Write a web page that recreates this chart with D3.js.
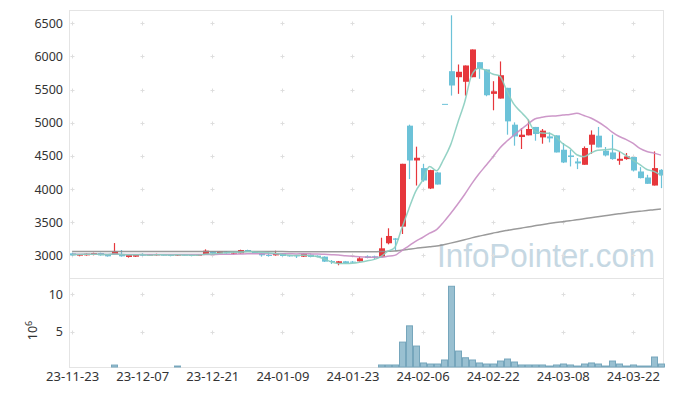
<!DOCTYPE html>
<html>
<head>
<meta charset="utf-8">
<script src="https://cdn.jsdelivr.net/npm/d3@7"></script>
<style>
  body { margin: 0; background: #fff; }
  text { font-family: "Noto Sans", "DejaVu Sans", sans-serif; }
</style>
</head>
<body>
<div id="chart"></div>
<script>
// trading days
var dates = ["23-11-23","23-11-24","23-11-27","23-11-28","23-11-29","23-11-30","23-12-01","23-12-04","23-12-05","23-12-06",
  "23-12-07","23-12-08","23-12-11","23-12-12","23-12-13","23-12-14","23-12-15","23-12-18","23-12-19","23-12-20",
  "23-12-21","23-12-22","23-12-26","23-12-27","23-12-28","24-01-02","24-01-03","24-01-04","24-01-05","24-01-08",
  "24-01-09","24-01-10","24-01-11","24-01-12","24-01-15","24-01-16","24-01-17","24-01-18","24-01-19","24-01-22",
  "24-01-23","24-01-24","24-01-25","24-01-26","24-01-29","24-01-30","24-01-31","24-02-01","24-02-02","24-02-05",
  "24-02-06","24-02-07","24-02-08","24-02-13","24-02-14","24-02-15","24-02-16","24-02-19","24-02-20","24-02-21",
  "24-02-22","24-02-23","24-02-26","24-02-27","24-02-28","24-02-29","24-03-04","24-03-05","24-03-06","24-03-07",
  "24-03-08","24-03-11","24-03-12","24-03-13","24-03-14","24-03-15","24-03-18","24-03-19","24-03-20","24-03-21",
  "24-03-22","24-03-25","24-03-26","24-03-27","24-03-28"];

var open = [3030,2995,3000,3005,3035,3015,3010,3010,2975,2980,
  3010,2995,3005,3010,3005,2995,3010,3005,2995,3015,
  3060,3030,3060,3025,3030,3080,3050,3030,3005,3000,
  3030,3000,3000,2980,3010,2995,2980,2915,2880,2910,
  2905,2910,2985,2985,2979,3182,3255,3433,4956,4431,
  4316,4008,4250,5285,5778,5687,5618,5687,5914,5804,
  5436,5365,5527,4971,4785,4810,4937,4779,4794,4810,
  4593,4507,4416,4366,4669,4805,4578,4552,4427,4452,
  4483,4265,4174,4053,4290];
var high = [3040,3015,3030,3040,3040,3020,3185,3080,3010,3010,
  3030,3020,3025,3015,3015,3020,3015,3010,3015,3090,
  3065,3065,3065,3055,3085,3085,3060,3035,3040,3070,
  3035,3005,3005,3030,3015,3000,2985,2930,2915,2915,
  2915,2975,3000,2995,3266,3408,3260,4381,4971,4639,
  4381,4290,4260,5285,6621,5879,5864,6106,5914,5804,
  5627,5925,5527,5006,4921,5047,4937,4906,4855,4810,
  4695,4593,4467,4643,4885,4937,4634,4820,4568,4543,
  4483,4331,4215,4568,4300];
var low = [2995,2985,2995,3000,2995,2980,3005,2980,2965,2975,
  2990,2990,2995,2995,2985,2990,2995,2985,2990,3010,
  3025,3025,3025,3015,3025,3060,3035,2980,2980,2995,
  2985,2980,2960,2975,2970,2970,2900,2870,2850,2875,
  2885,2905,2955,2945,2975,3166,3070,3322,4150,4053,
  4110,4000,4068,5285,5410,5436,5410,5687,5663,5400,
  5188,5365,4820,4654,4604,4810,4729,4684,4704,4552,
  4392,4341,4301,4366,4533,4628,4492,4442,4366,4442,
  4265,4160,4079,4053,4014];
var close = [3000,3010,3025,3035,3000,2985,3060,2985,3005,3005,
  3000,3015,3015,3000,2995,3015,3000,2995,3010,3070,
  3030,3060,3030,3040,3080,3070,3040,3000,3000,3030,
  2990,2985,2985,3025,2975,2975,2905,2905,2910,2880,
  2890,2955,2960,2975,3106,3292,3235,4381,4431,4472,
  4129,4286,4068,5285,5562,5769,5864,6106,5814,5415,
  5475,5717,5021,4794,4820,4906,4831,4881,4764,4552,
  4401,4483,4386,4619,4820,4628,4507,4452,4457,4492,
  4280,4165,4079,4316,4205];

// volume, millions of shares
var volume = [0.15,0.12,0.14,0.13,0.12,0.11,0.5,0.16,0.12,0.11,
  0.1,0.12,0.11,0.1,0.1,0.37,0.12,0.1,0.1,0.18,
  0.13,0.12,0.12,0.1,0.14,0.12,0.11,0.12,0.11,0.13,
  0.12,0.1,0.1,0.12,0.11,0.1,0.16,0.14,0.13,0.12,
  0.11,0.15,0.12,0.11,0.51,0.51,0.51,3.58,5.76,3.05,
  0.78,0.64,0.64,1.18,11.07,2.38,1.48,1.18,0.78,0.64,
  0.64,1.04,1.31,0.91,0.51,0.51,0.51,0.51,0.37,0.51,
  0.64,0.51,0.37,0.64,0.78,0.64,0.37,1.04,0.64,0.37,
  0.51,0.37,0.37,1.58,0.64];

// moving averages
var ma5 = [3012,3013,3016,3018,3014,3011,3021,3013,3007,3008,
  3011,3002,3008,3007,3005,3008,3005,3001,3003,3018,
  3021,3033,3040,3046,3048,3056,3052,3046,3038,3028,
  3012,3001,2998,3003,2992,2980,2945,2900,2878,2875,
  2880,2895,2915,2935,2977,3058,3114,3398,3689,3962,
  4130,4340,4277,4448,4666,4994,5310,5717,5823,5794,
  5735,5705,5488,5284,5165,5052,4874,4846,4840,4787,
  4686,4616,4517,4488,4542,4587,4592,4605,4573,4507,
  4438,4369,4295,4266,4209];
var ma20 = [3018,3017,3016,3016,3015,3014,3015,3014,3013,3013,
  3012,3012,3012,3011,3011,3011,3011,3011,3011,3011,
  3013,3015,3016,3016,3020,3024,3023,3024,3024,3025,
  3024,3023,3021,3023,3022,3020,3015,3010,3005,2994,
  2985,2978,2973,2970,2972,2985,2999,3068,3140,3212,
  3269,3334,3388,3501,3630,3770,3918,4078,4223,4350,
  4479,4617,4720,4811,4897,4978,5057,5082,5099,5103,
  5117,5126,5142,5109,5072,5015,4947,4864,4796,4750,
  4691,4613,4566,4542,4511];
var ma120 = [3058,3058,3058,3058,3057,3057,3057,3057,3057,3057,
  3057,3057,3057,3057,3057,3056,3056,3056,3056,3056,
  3056,3056,3056,3056,3056,3056,3056,3056,3056,3056,
  3056,3055,3055,3055,3055,3055,3055,3055,3055,3055,
  3055,3055,3055,3055,3056,3060,3064,3077,3091,3105,
  3117,3129,3140,3161,3184,3209,3235,3263,3288,3310,
  3333,3357,3376,3393,3410,3428,3445,3463,3479,3494,
  3508,3522,3535,3551,3568,3583,3598,3612,3626,3640,
  3653,3664,3675,3688,3700];

var priceTicks = [3000, 3500, 4000, 4500, 5000, 5500, 6000, 6500];
var volumeTicks = [5, 10];

var svgWidth = 673;
var svgHeight = 396;
var plot = { left: 70, right: 663, top: 10, mid: 278, bottom: 367 };

var upColor = "#e6373c";
var downColor = "#6cc2d8";

var svg = d3.select("#chart")
  .append("svg")
  .attr("width", svgWidth)
  .attr("height", svgHeight);

var x = d3.scaleLinear().domain([-0.3, 84.3]).range([plot.left, plot.right]);
var yPrice = d3.scaleLinear().domain([2658, 6701]).range([plot.mid, plot.top]);
var yVol = d3.scaleLinear().domain([0.24, 12.18]).range([plot.bottom, plot.mid]);

var idx = d3.range(dates.length);
var tickIdx = idx.filter(function(i) { return i % 10 === 0; });

// watermark
svg.append("text")
  .attr("x", 437)
  .attr("y", 267)
  .attr("font-size", 33)
  .attr("textLength", 218)
  .attr("lengthAdjust", "spacingAndGlyphs")
  .attr("fill", "#c6d8e3")
  .style("font-family", "'Liberation Sans Narrow', 'Liberation Sans', sans-serif")
  .text("InfoPointer.com");

// grid "+" marks
var crosses = svg.append("g").attr("stroke", "#dedede").attr("stroke-width", 1);
function addCrosses(scale, ticks) {
  ticks.forEach(function(t) {
    tickIdx.forEach(function(i) {
      var cx = Math.round(x(i)) + 0.5, cy = Math.round(scale(t)) + 0.5;
      crosses.append("line").attr("x1", cx - 2).attr("x2", cx + 2).attr("y1", cy).attr("y2", cy);
      crosses.append("line").attr("x1", cx).attr("x2", cx).attr("y1", cy - 2).attr("y2", cy + 2);
    });
  });
}
addCrosses(yPrice, priceTicks);
addCrosses(yVol, volumeTicks);

// frame
var frame = svg.append("g").attr("stroke", "#e4e4e4").attr("fill", "none");
frame.append("rect")
  .attr("x", plot.left - 0.5).attr("y", plot.top + 0.5)
  .attr("width", plot.right - plot.left + 1).attr("height", plot.bottom - plot.top);
frame.append("line")
  .attr("x1", plot.left).attr("x2", plot.right)
  .attr("y1", plot.mid + 0.5).attr("y2", plot.mid + 0.5);

svg.append("clipPath").attr("id", "priceClip")
  .append("rect").attr("x", plot.left).attr("y", plot.top)
  .attr("width", plot.right - plot.left).attr("height", plot.mid - plot.top);

// candles
var candles = svg.append("g").attr("clip-path", "url(#priceClip)")
  .selectAll("g").data(idx).enter().append("g");

candles.append("line")
  .attr("x1", function(i) { return Math.round(x(i)) + 0.5; })
  .attr("x2", function(i) { return Math.round(x(i)) + 0.5; })
  .attr("y1", function(i) { return yPrice(high[i]); })
  .attr("y2", function(i) { return yPrice(low[i]); })
  .attr("stroke", function(i) { return close[i] > open[i] ? upColor : downColor; })
  .attr("stroke-width", 1.2);

candles.append("rect")
  .attr("x", function(i) { return Math.round(x(i)) - 2; })
  .attr("width", 6)
  .attr("y", function(i) { return yPrice(Math.max(open[i], close[i])); })
  .attr("height", function(i) {
    return Math.max(1, yPrice(Math.min(open[i], close[i])) - yPrice(Math.max(open[i], close[i])));
  })
  .attr("fill", function(i) { return close[i] > open[i] ? upColor : downColor; });

// moving average lines
function maLine(values) {
  return d3.line()
    .x(function(i) { return x(i); })
    .y(function(i) { return yPrice(values[i]); })
    .curve(d3.curveMonotoneX)(idx);
}
var lines = svg.append("g").attr("clip-path", "url(#priceClip)").attr("fill", "none");
lines.append("path").attr("d", maLine(ma120)).attr("stroke", "#8f8f8f").attr("stroke-width", 1.5).attr("opacity", 0.9);
lines.append("path").attr("d", maLine(ma20)).attr("stroke", "#c88dc3").attr("stroke-width", 1.5).attr("opacity", 0.9);
lines.append("path").attr("d", maLine(ma5)).attr("stroke", "#88cdbf").attr("stroke-width", 1.5).attr("opacity", 0.9);

// volume bars
svg.append("g").selectAll("rect")
  .data(idx).enter().append("rect")
  .attr("x", function(i) { return Math.round(x(i)) - 2.5; })
  .attr("width", 6)
  .attr("y", function(i) { return yVol(volume[i]); })
  .attr("height", function(i) { return Math.max(0, plot.bottom - yVol(volume[i])); })
  .attr("fill", "#99c0d1")
  .attr("stroke", "#76a6bc")
  .attr("stroke-width", 1);

// price axis
svg.append("g")
  .attr("transform", "translate(" + (plot.left - 7) + ",0)")
  .call(d3.axisLeft(yPrice).tickValues(priceTicks).tickSize(0).tickPadding(0).tickFormat(d3.format("d")))
  .call(function(g) { g.select(".domain").remove(); })
  .selectAll("text").attr("font-size", 12.5).attr("fill", "#333")
  .style("font-family", "'Noto Sans', sans-serif");

// volume axis
svg.append("g")
  .attr("transform", "translate(" + (plot.left - 7) + ",0)")
  .call(d3.axisLeft(yVol).tickValues(volumeTicks).tickSize(0).tickPadding(0).tickFormat(d3.format("d")))
  .call(function(g) { g.select(".domain").remove(); })
  .selectAll("text").attr("font-size", 12.5).attr("fill", "#333")
  .style("font-family", "'Noto Sans', sans-serif");

var unit = svg.append("text")
  .attr("transform", "translate(37," + ((plot.mid + plot.bottom) / 2 + 8) + ") rotate(-90)")
  .attr("text-anchor", "middle")
  .attr("font-size", 12.5)
  .attr("fill", "#333");
unit.append("tspan").text("10");
unit.append("tspan").attr("dy", -5).attr("font-size", 9).text("6");

// date axis
svg.append("g")
  .attr("transform", "translate(0," + plot.bottom + ")")
  .call(d3.axisBottom(x).tickValues(tickIdx).tickSize(0).tickPadding(5)
    .tickFormat(function(i) { return dates[i]; }))
  .call(function(g) { g.select(".domain").remove(); })
  .selectAll("text").attr("font-size", 13).attr("fill", "#333")
  .style("font-family", "'Noto Sans', sans-serif");
</script>
</body>
</html>
